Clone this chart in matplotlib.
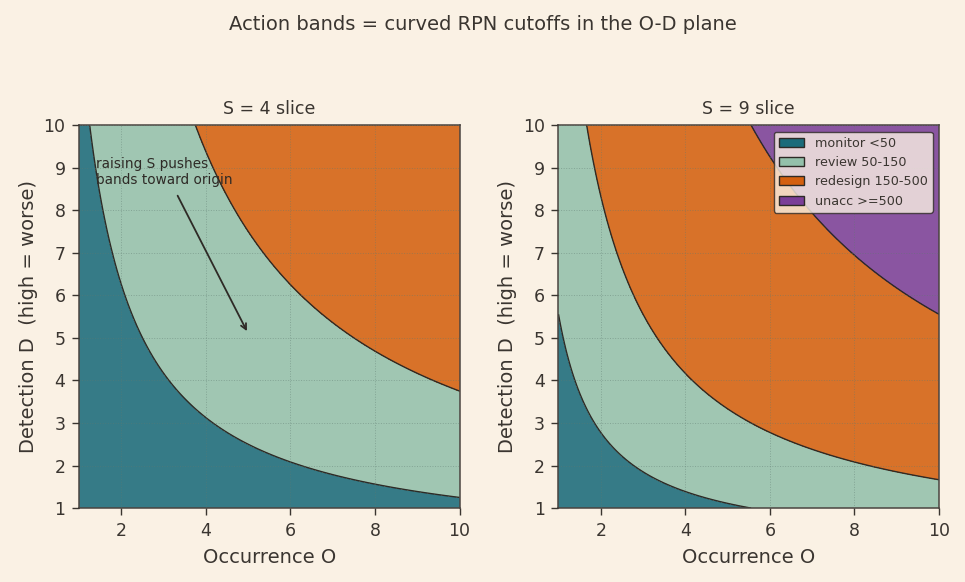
import numpy as np
import matplotlib.pyplot as plt
from matplotlib.patches import Patch

# severity slices and RPN band cutoffs
severities = [4, 9]
levels = [0, 50, 150, 500, 1000]
band_labels = ["monitor <50", "review 50-150", "redesign 150-500", "unacc >=500"]
band_colors = ["#1b6b7a", "#94c1ab", "#d4600f", "#7b3f98"]

bg = "#faf1e4"
ink = "#3a3530"

plt.rcParams.update({
    "figure.facecolor": bg,
    "axes.facecolor": bg,
    "text.color": ink,
    "axes.labelcolor": ink,
    "xtick.color": ink,
    "ytick.color": ink,
    "axes.edgecolor": "#4a4440",
    "axes.linewidth": 1.1,
})

o = np.linspace(1, 10, 400)
d = np.linspace(1, 10, 400)
O, D = np.meshgrid(o, d)

fig, axes = plt.subplots(1, 2, figsize=(9.65, 5.82), dpi=100)
fig.subplots_adjust(left=0.082, right=0.973, top=0.785, bottom=0.127, wspace=0.26)

for ax, s in zip(axes, severities):
    rpn = s * O * D
    ax.contourf(O, D, rpn, levels=levels, colors=band_colors, alpha=0.88)
    ax.contour(O, D, rpn, levels=levels[1:-1], colors="#2e2a26", linewidths=1.0)
    ax.set_xlim(1, 10)
    ax.set_ylim(1, 10)
    ax.set_xticks([2, 4, 6, 8, 10])
    ax.set_yticks(range(1, 11))
    ax.tick_params(labelsize=12.5, length=4.8, width=1.0, pad=5)
    ax.grid(True, linestyle=":", color="#5f7a70", linewidth=0.7, alpha=0.45)
    ax.set_axisbelow(False)
    ax.set_title(f"S = {s} slice", fontsize=12.5, pad=8)
    ax.set_xlabel("Occurrence O", fontsize=14, labelpad=6)
    ax.set_ylabel("Detection D  (high = worse)", fontsize=14)

axes[0].text(1.4, 8.9, "raising S pushes\nbands toward origin", fontsize=9.8,
             va="center", ha="left", color="#2e2a26")
axes[0].annotate("", xy=(5.0, 5.1), xytext=(3.3, 8.4),
                 arrowprops=dict(arrowstyle="->", color="#2e2a26", lw=1.3))

handles = [Patch(facecolor=c, edgecolor="#2e2a26", label=l)
           for c, l in zip(band_colors, band_labels)]
leg = axes[1].legend(handles=handles, loc="upper right", fontsize=9.2,
                     framealpha=0.8, facecolor=bg, edgecolor="#2e2a26")

fig.suptitle("Action bands = curved RPN cutoffs in the O-D plane", fontsize=14, y=0.975)

fig.savefig("out.png", dpi=100, facecolor=bg)
